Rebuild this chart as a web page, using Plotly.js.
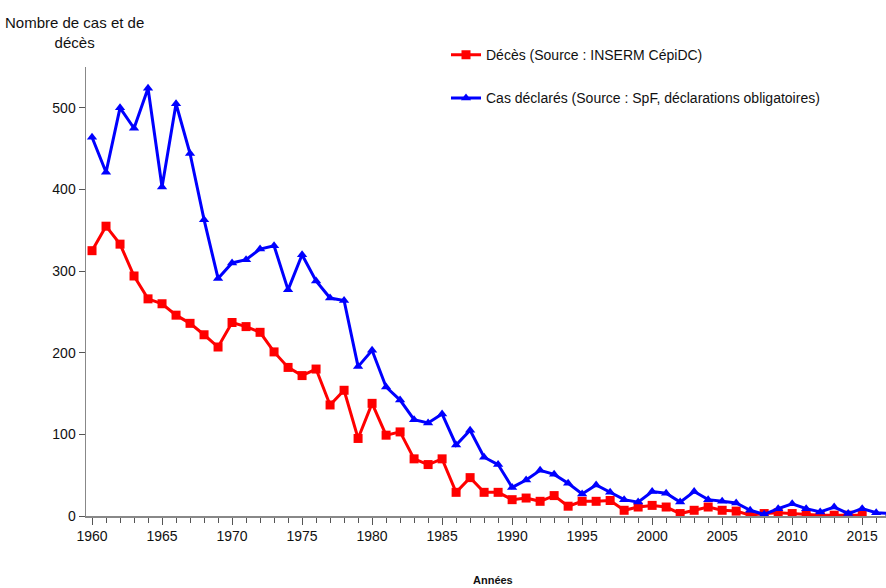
<!DOCTYPE html>
<html>
<head>
<meta charset="utf-8">
<script src="https://cdn.plot.ly/plotly-3.0.1.min.js"></script>
<style>html,body{margin:0;padding:0;background:#fff;}#chart{width:886px;height:588px;}</style>
</head>
<body>
<div id="chart"></div>
<script>
const years = [1960,1961,1962,1963,1964,1965,1966,1967,1968,1969,1970,1971,1972,1973,1974,1975,1976,1977,1978,1979,1980,1981,1982,1983,1984,1985,1986,1987,1988,1989,1990,1991,1992,1993,1994,1995,1996,1997,1998,1999,2000,2001,2002,2003,2004,2005,2006,2007,2008,2009,2010,2011,2012,2013,2014,2015,2016,2017];
const deces = [325,355,333,294,266,260,246,236,222,207,237,232,225,201,182,172,180,136,154,95,138,99,103,70,63,70,29,47,29,29,20,22,18,25,12,18,18,19,7,11,13,11,3,7,11,7,6,1,3,4,3,2,1,1,1,1,null,null];
const cas = [464,421,500,475,524,403,505,444,363,291,310,314,327,331,277,320,288,267,264,183,203,158,142,118,114,125,87,105,72,63,35,44,56,51,40,27,38,29,20,17,30,28,17,30,20,18,16,7,2,9,15,9,5,11,3,9,4,3];
const nameDeces = "Décès (Source : INSERM CépiDC)";
const nameCas = "Cas déclarés (Source : SpF, déclarations obligatoires)";

const traces = [
  {x: years, y: deces, name: nameDeces, type: 'scatter', mode: 'lines+markers',
   line: {color: '#ff0000', width: 3}, marker: {symbol: 'square', size: 9, color: '#ff0000'},
   legendgroup: 'a', cliponaxis: true},
  {x: years, y: cas, name: nameCas, type: 'scatter', mode: 'lines+markers',
   line: {color: '#0000ff', width: 3}, marker: {symbol: 'triangle-up', size: 9, color: '#0000ff'},
   legendgroup: 'b', cliponaxis: true}
];

const layout = {
  width: 886, height: 588,
  margin: {l: 86, r: 0, t: 67, b: 72},
  paper_bgcolor: '#fff', plot_bgcolor: '#fff',
  font: {family: 'Liberation Sans, Arial, sans-serif', size: 14, color: '#111'},
  showlegend: true,
  legend: {x: 0.45, y: 1.062, xanchor: 'left', yanchor: 'top', bgcolor: 'rgba(0,0,0,0)',
           font: {size: 14, color: '#111'}, traceorder: 'grouped', tracegroupgap: 22},
  xaxis: {range: [1959.57, 2016.7], dtick: 5, tick0: 1960, ticks: 'outside', ticklen: 7,
          tickcolor: '#555', showline: true, linecolor: '#888', linewidth: 1.5,
          showgrid: false, zeroline: false, tickfont: {size: 14, color: '#111'},
          minor: {dtick: 1, ticks: 'outside', ticklen: 5, tickcolor: '#555', showgrid: false}},
  yaxis: {range: [0, 550], dtick: 100, ticks: 'outside', ticklen: 6, tickcolor: '#555',
          showline: true, linecolor: '#888', linewidth: 1.5, showgrid: false, zeroline: false,
          tickfont: {size: 14, color: '#111'}},
  annotations: [
    {text: 'Nombre de cas et de<br>décès', xref: 'paper', yref: 'paper',
     x: (74 - 86) / 800, y: 1 + (67 - 32) / 449, xanchor: 'center', yanchor: 'middle',
     showarrow: false, font: {size: 15, color: '#111'}, align: 'center'},
    {text: '<b>Années</b>', xref: 'paper', yref: 'paper',
     x: (493 - 86) / 800, y: -(580 - 516) / 449, xanchor: 'center', yanchor: 'middle',
     showarrow: false, font: {size: 11, color: '#111'}}
  ]
};

Plotly.newPlot('chart', traces, layout, {displayModeBar: false, staticPlot: true});
</script>
</body>
</html>
